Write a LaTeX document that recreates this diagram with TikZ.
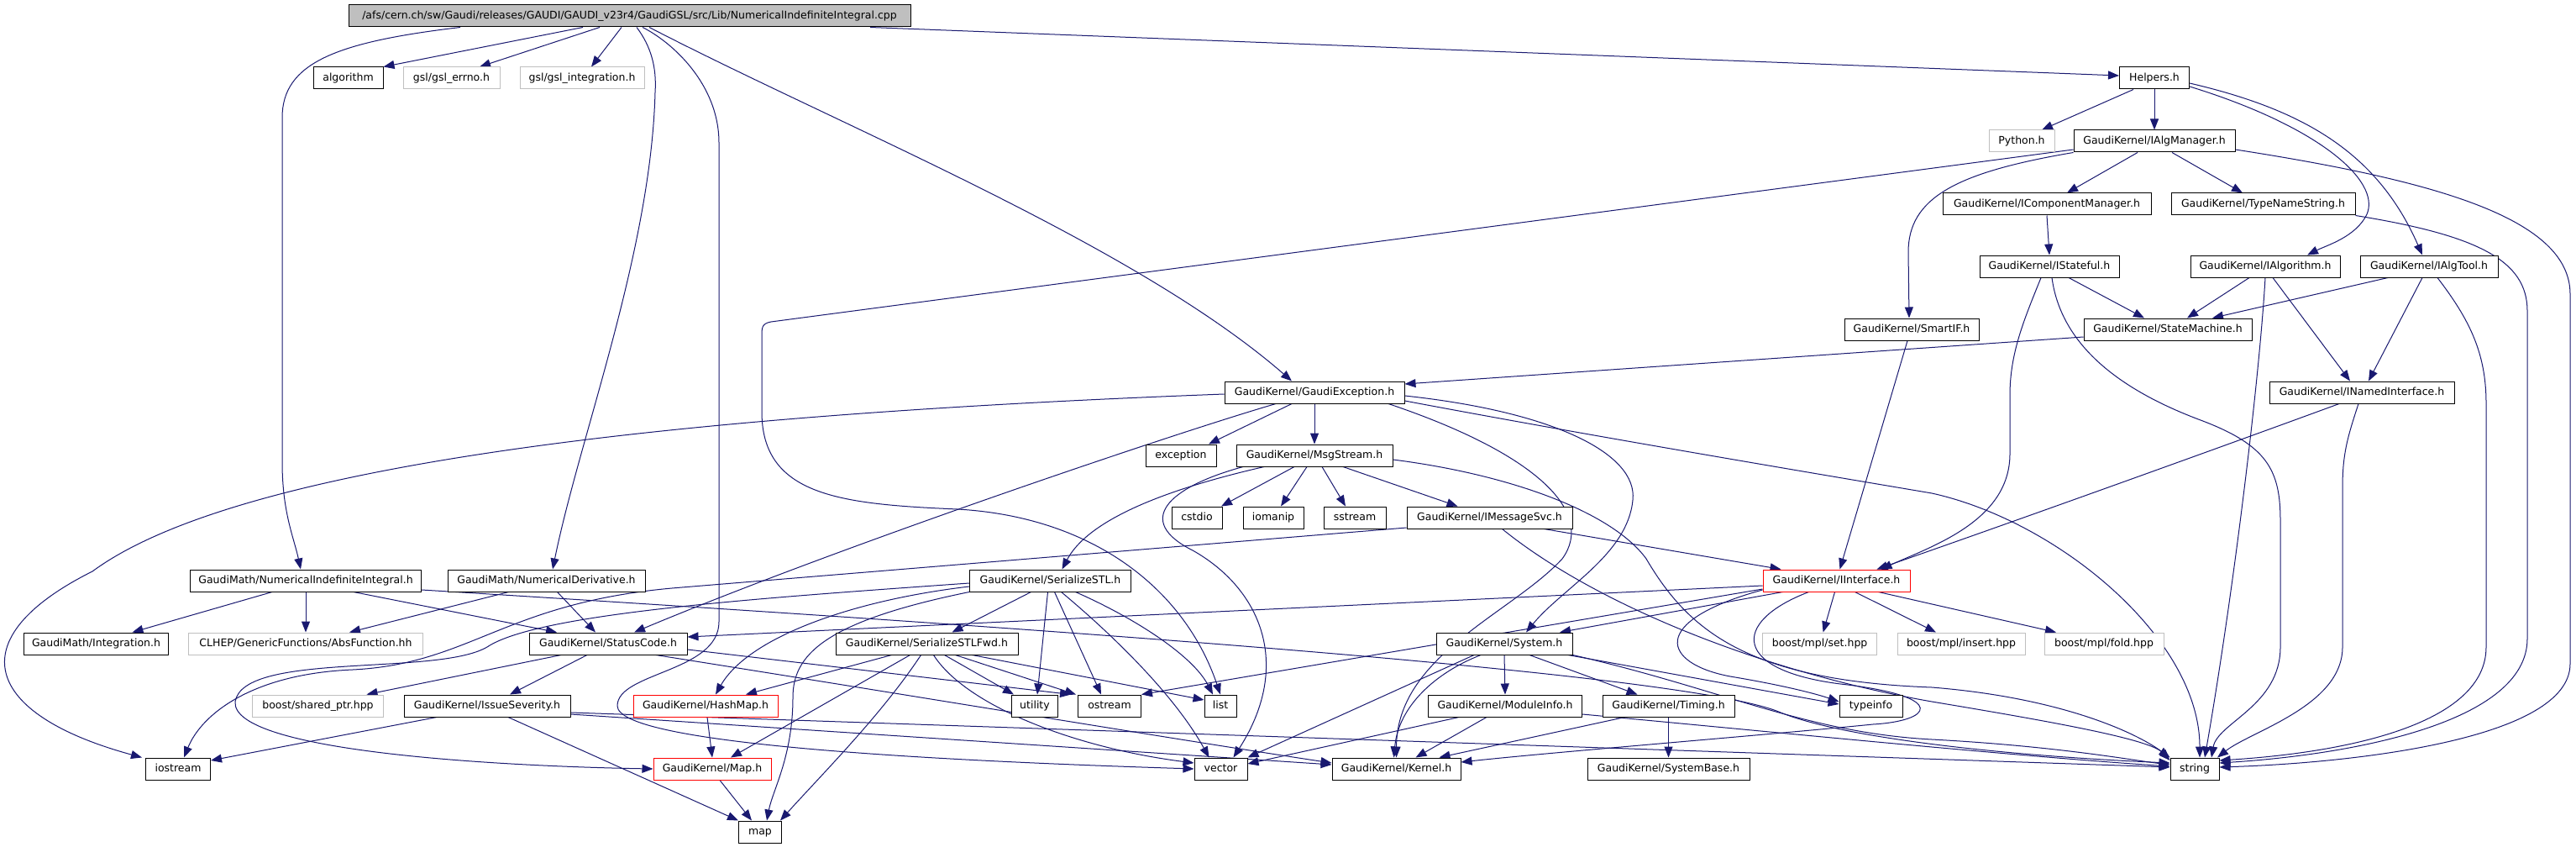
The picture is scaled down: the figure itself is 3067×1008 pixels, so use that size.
\documentclass[tikz,border=0pt]{standalone}
\usepackage{fontspec}
\setmainfont{DejaVu Sans}
\usetikzlibrary{arrows.meta}
\definecolor{edgec}{HTML}{191970}
\definecolor{grayb}{HTML}{BFBFBF}
\definecolor{redb}{HTML}{FF0000}
\newcommand{\dfont}{\fontsize{12.5}{15}\selectfont}
\pgfdeclarelayer{back}
\pgfdeclarelayer{edges}
\pgfsetlayers{back,edges,main}
\begin{document}
\begin{tikzpicture}[x=1pt,y=-1pt,
 box/.style={draw=black, line width=1pt, minimum height=26pt, inner xsep=2pt, inner ysep=0pt, text height=9.3pt, text depth=2.7pt, font=\dfont, fill=white},
 gbox/.style={box, draw=grayb},
 rbox/.style={box, draw=redb},
 rootbox/.style={box, fill=grayb},
 edge/.style={draw=edgec, line width=1pt, -{Triangle[length=13pt,width=10pt]}},
]
\useasboundingbox (0,0) rectangle (3067,1008);
\begin{pgfonlayer}{back}
\fill[white] (0,0) rectangle (3067,1008);
\end{pgfonlayer}

% nodes
\node[rootbox, minimum width=669pt] (root) at (749.5,19) {/afs/cern.ch/sw/Gaudi/releases/GAUDI/GAUDI\_v23r4/GaudiGSL/src/Lib/NumericalIndefiniteIntegral.cpp};
\node[box, minimum width=83pt] (algorithm) at (414.5,93) {algorithm};
\node[gbox, minimum width=115pt] (gslerrno) at (537.5,93) {gsl/gsl\_errno.h};
\node[gbox, minimum width=148pt] (gslint) at (693,93) {gsl/gsl\_integration.h};
\node[box, minimum width=83pt] (helpers) at (2565,93) {Helpers.h};
\node[gbox, minimum width=78pt] (python) at (2407,168) {Python.h};
\node[box, minimum width=192pt] (ialgmgr) at (2565,168) {GaudiKernel/IAlgManager.h};
\node[box, minimum width=248pt] (icompmgr) at (2437,243) {GaudiKernel/IComponentManager.h};
\node[box, minimum width=219pt] (typename) at (2694.5,243) {GaudiKernel/TypeNameString.h};
\node[box, minimum width=166pt] (istateful) at (2440,317) {GaudiKernel/IStateful.h};
\node[box, minimum width=178pt] (ialgo) at (2697,317) {GaudiKernel/IAlgorithm.h};
\node[box, minimum width=164pt] (ialgtool) at (2892,317) {GaudiKernel/IAlgTool.h};
\node[box, minimum width=160pt] (smartif) at (2276,392) {GaudiKernel/SmartIF.h};
\node[box, minimum width=200pt] (statemach) at (2581,392) {GaudiKernel/StateMachine.h};
\node[box, minimum width=220pt] (inamed) at (2812,467) {GaudiKernel/INamedInterface.h};
\node[box, minimum width=214pt] (gexc) at (1565,467) {GaudiKernel/GaudiException.h};
\node[box, minimum width=84pt] (exception) at (1406,542) {exception};
\node[box, minimum width=186pt] (msgstream) at (1565,542) {GaudiKernel/MsgStream.h};
\node[box, minimum width=60pt] (cstdio) at (1425,616) {cstdio};
\node[box, minimum width=72pt] (iomanip) at (1516,616) {iomanip};
\node[box, minimum width=74pt] (sstream) at (1613,616) {sstream};
\node[box, minimum width=197pt] (imsgsvc) at (1773.5,616) {GaudiKernel/IMessageSvc.h};
\node[box, minimum width=275pt] (numint) at (364,691) {GaudiMath/NumericalIndefiniteIntegral.h};
\node[box, minimum width=235pt] (numder) at (650.5,691) {GaudiMath/NumericalDerivative.h};
\node[box, minimum width=172pt] (integration) at (114.5,766) {GaudiMath/Integration.h};
\node[gbox, minimum width=279pt] (absfunc) at (364,766) {CLHEP/GenericFunctions/AbsFunction.hh};
\node[box, minimum width=188pt] (statuscode) at (724,766) {GaudiKernel/StatusCode.h};
\node[gbox, minimum width=156pt] (sharedptr) at (378.5,840) {boost/shared\_ptr.hpp};
\node[box, minimum width=198pt] (issuesev) at (580,840) {GaudiKernel/IssueSeverity.h};
\node[box, minimum width=77pt] (iostream) at (212,915) {iostream};
\node[box, minimum width=192pt] (serstl) at (1250.5,691) {GaudiKernel/SerializeSTL.h};
\node[box, minimum width=217pt] (serstlfwd) at (1103.5,766) {GaudiKernel/SerializeSTLFwd.h};
\node[rbox, minimum width=172pt] (hashmap) at (840,840) {GaudiKernel/HashMap.h};
\node[box, minimum width=55pt] (utility) at (1232,840) {utility};
\node[box, minimum width=75pt] (ostream) at (1321,840) {ostream};
\node[box, minimum width=38pt] (list) at (1453,840) {list};
\node[rbox, minimum width=140pt] (mapH) at (848,915) {GaudiKernel/Map.h};
\node[box, minimum width=63pt] (vector) at (1453.5,915) {vector};
\node[box, minimum width=51pt] (map) at (905,990) {map};
\node[rbox, minimum width=175pt] (iinterface) at (2186.5,691) {GaudiKernel/IInterface.h};
\node[box, minimum width=162pt] (system) at (1791,766) {GaudiKernel/System.h};
\node[gbox, minimum width=136pt] (mplset) at (2166.6,766) {boost/mpl/set.hpp};
\node[gbox, minimum width=152pt] (mplinsert) at (2335,766) {boost/mpl/insert.hpp};
\node[gbox, minimum width=142pt] (mplfold) at (2505,766) {boost/mpl/fold.hpp};
\node[box, minimum width=183pt] (moduleinfo) at (1792,840) {GaudiKernel/ModuleInfo.h};
\node[box, minimum width=157pt] (timing) at (1986.5,840) {GaudiKernel/Timing.h};
\node[box, minimum width=75pt] (typeinfo) at (2227.5,840) {typeinfo};
\node[box, minimum width=153pt] (kernel) at (1662.5,915) {GaudiKernel/Kernel.h};
\node[box, minimum width=193pt] (sysbase) at (1986.5,915) {GaudiKernel/SystemBase.h};
\node[box, minimum width=58pt] (string) at (2613,915) {string};

\begin{pgfonlayer}{edges}
% root
\draw[edge] ([xshift=-55.5]root.south) -- (algorithm.north east);
\draw[edge] ([xshift=-35.5]root.south) -- ([xshift=33.5]gslerrno.north);
\draw[edge] ([xshift=-9.5]root.south) -- ([xshift=11]gslint.north);
\draw[edge] ([xshift=-201.5]root.south) .. controls (400,50) and (336,75) .. (336,140) -- (336,550) .. controls (336,610) and (350,640) .. ([xshift=-6]numint.north);
\draw[edge] ([xshift=8.5]root.south) .. controls (775,55) and (782,80) .. (780,110) .. controls (775,300) and (690,520) .. ([xshift=7.5]numder.north);
\draw[edge] ([xshift=15.5]root.south) .. controls (800,50) and (856,100) .. (856,170) -- (856,740) .. controls (856,800) and (735,800) .. (735,840) .. controls (735,885) and (1100,905) .. (vector.west);
\draw[edge] ([xshift=23.5]root.south) .. controls (1000,150) and (1350,290) .. ([xshift=-27]gexc.north);
\draw[edge] ([xshift=286.5]root.south) -- ([yshift=3]helpers.west);
% Helpers
\draw[edge] ([xshift=-25]helpers.south) -- ([xshift=24]python.north);
\draw[edge] (helpers.south) -- (ialgmgr.north);
\draw[edge] ([yshift=-10]helpers.east) .. controls (2760,150) and (2835,215) .. (2818,255) .. controls (2805,282) and (2770,292) .. ([xshift=50]ialgo.north);
\draw[edge] ([yshift=-6]helpers.east) .. controls (2740,130) and (2830,180) .. ([xshift=-8]ialgtool.north);
% IAlgManager
\draw[edge] ([xshift=-20]ialgmgr.south) -- ([xshift=24]icompmgr.north);
\draw[edge] ([xshift=21]ialgmgr.south) -- ([xshift=-24.5]typename.north);
\draw[edge] (ialgmgr.south west) .. controls (2330,205) and (2272,235) .. (2272,300) -- ([xshift=-3]smartif.north);
\draw[edge] ([yshift=-10]ialgmgr.west) -- (918,383) .. controls (907,385) and (907,390) .. (907,400) -- (907,490) .. controls (907,590) and (1000,600) .. (1140,606) .. controls (1300,615) and (1410,700) .. (list.north);
\draw[edge] ([yshift=-10]ialgmgr.east) .. controls (2900,215) and (3060,260) .. (3060,350) -- (3060,790) .. controls (3060,880) and (2800,908) .. ([yshift=2]string.east);
\draw[edge] (icompmgr.south) -- (istateful.north);
\draw[edge] (typename.south east) .. controls (2950,280) and (3009,310) .. (3009,370) -- (3009,760) .. controls (3009,860) and (2800,898) .. ([yshift=7]string.east);
% IStateful
\draw[edge] ([xshift=23]istateful.south) -- ([xshift=-28]statemach.north);
\draw[edge] ([xshift=-10]istateful.south) .. controls (2410,380) and (2393,420) .. (2393,470) -- (2393,540) .. controls (2393,620) and (2300,650) .. ([xshift=53]iinterface.north);
\draw[edge] ([xshift=3]istateful.south) .. controls (2455,420) and (2540,470) .. (2620,500) .. controls (2700,530) and (2715,560) .. (2715,620) -- (2715,770) .. controls (2715,840) and (2640,860) .. ([xshift=20]string.north);
% IAlgorithm
\draw[edge] ([xshift=-19]ialgo.south) -- ([xshift=23]statemach.north);
\draw[edge] ([xshift=9]ialgo.south) -- ([xshift=-14]inamed.north);
\draw[edge] (ialgo.south) .. controls (2690,450) and (2660,700) .. ([xshift=12]string.north);
% IAlgTool
\draw[edge] ([xshift=-49]ialgtool.south) -- ([xshift=53]statemach.north);
\draw[edge] ([xshift=-8]ialgtool.south) -- ([xshift=8]inamed.north);
\draw[edge] ([xshift=10]ialgtool.south) .. controls (2940,380) and (2960,420) .. (2960,480) -- (2960,770) .. controls (2960,860) and (2800,895) .. ([yshift=10]string.east);
% SmartIF, StateMachine, INamedInterface
\draw[edge] ([xshift=-5]smartif.south) -- ([xshift=4]iinterface.north);
\draw[edge] ([yshift=-9]statemach.west) -- ([yshift=10]gexc.east);
\draw[edge] ([xshift=-27]inamed.south) .. controls (2650,530) and (2400,620) .. ([xshift=48]iinterface.north);
\draw[edge] ([xshift=-4]inamed.south) .. controls (2795,520) and (2789,540) .. (2789,580) -- (2789,770) .. controls (2789,840) and (2680,870) .. ([xshift=27]string.north);
% GaudiException
\draw[edge] ([xshift=-27]gexc.south) -- ([xshift=33]exception.north);
\draw[edge] (gexc.south) -- (msgstream.north);
\draw[edge] ([xshift=-46]gexc.south) .. controls (1400,515) and (1000,650) .. ([xshift=31]statuscode.north);
\draw[edge] ([yshift=-2]gexc.west) .. controls (900,490) and (300,540) .. (110,680) .. controls (-50,760) and (-20,850) .. ([xshift=-43]iostream.north);
\draw[edge] ([xshift=88]gexc.south) .. controls (1830,540) and (1900,610) .. (1860,665) .. controls (1800,730) and (1663,780) .. (kernel.north);
\draw[edge] ([yshift=-4]gexc.east) .. controls (1850,490) and (1950,540) .. (1944,595) .. controls (1938,660) and (1860,700) .. ([xshift=26]system.north);
\draw[edge] ([yshift=-10]gexc.east) .. controls (1900,520) and (2200,570) .. (2300,587) .. controls (2450,620) and (2619,760) .. ([xshift=6]string.north);
% MsgStream
\draw[edge] ([xshift=-24]msgstream.south) -- ([xshift=29]cstdio.north);
\draw[edge] ([xshift=-9]msgstream.south) -- ([xshift=9]iomanip.north);
\draw[edge] ([xshift=9]msgstream.south) -- ([xshift=-11]sstream.north);
\draw[edge] ([xshift=34]msgstream.south) -- ([xshift=-38]imsgsvc.north);
\draw[edge] ([xshift=-60]msgstream.south) .. controls (1420,575) and (1300,610) .. ([xshift=14]serstl.north);
\draw[edge] ([xshift=-85]msgstream.south) .. controls (1390,580) and (1350,620) .. (1420,655) .. controls (1500,700) and (1540,790) .. ([xshift=15]vector.north);
\draw[edge] ([yshift=-5]msgstream.east) .. controls (1800,565) and (1920,610) .. (1960,665) .. controls (2010,750) and (2080,810) .. (2300,818) .. controls (2450,830) and (2540,870) .. (string.north west);
% IMessageSvc
\draw[edge] ([xshift=65]imsgsvc.south) -- ([xshift=-66]iinterface.north);
\draw[edge] ([yshift=-12]imsgsvc.west) -- (800,700) .. controls (600,718) and (560,790) .. (420,797) .. controls (300,802) and (240,850) .. ([xshift=7]iostream.north);
\draw[edge] ([xshift=15]imsgsvc.south) .. controls (1900,720) and (2100,800) .. (2300,835) .. controls (2450,860) and (2560,880) .. ([yshift=10]string.west);
% NumericalIndefiniteIntegral.h
\draw[edge] ([xshift=-40]numint.south) -- ([xshift=43]integration.north);
\draw[edge] (numint.south) -- (absfunc.north);
\draw[edge] ([xshift=57]numint.south) -- ([xshift=-61]statuscode.north);
\draw[edge] ([yshift=-11]numint.east) .. controls (1200,745) and (2010,800) .. (2120,848) .. controls (2200,880) and (2400,900) .. ([yshift=7]string.west);
% NumericalDerivative.h
\draw[edge] ([xshift=-45]numder.south) -- ([xshift=52]absfunc.north);
\draw[edge] ([xshift=13]numder.south) -- ([xshift=-15]statuscode.north);
% StatusCode
\draw[edge] ([xshift=-56]statuscode.south) -- ([xshift=58]sharedptr.north);
\draw[edge] ([xshift=-25]statuscode.south) -- ([xshift=27]issuesev.north);
\draw[edge] ([yshift=-7]statuscode.east) -- ([xshift=-46]ostream.north);
\draw[edge] ([xshift=57]statuscode.south) .. controls (1100,830) and (1400,880) .. ([yshift=7]kernel.west);
% IssueSeverity
\draw[edge] ([xshift=-60]issuesev.south) -- ([yshift=10]iostream.east);
\draw[edge] ([xshift=25]issuesev.south) -- (map.north west);
\draw[edge] ([yshift=-10]issuesev.east) -- ([yshift=5]kernel.west);
\draw[edge] ([yshift=-8]issuesev.east) -- ([yshift=2]string.west);
% SerializeSTL
\draw[edge] ([xshift=-23]serstl.south) -- ([xshift=30]serstlfwd.north);
\draw[edge] ([yshift=-7]serstl.west) .. controls (1010,715) and (890,760) .. ([xshift=12]hashmap.north);
\draw[edge] (serstl.south west) .. controls (980,740) and (944,780) .. (944,830) .. controls (944,900) and (920,940) .. ([xshift=8]map.north);
\draw[edge] ([yshift=-3]serstl.west) .. controls (900,712) and (640,730) .. (580,770) .. controls (520,805) and (290,775) .. (280,835) .. controls (275,895) and (600,912) .. (mapH.west);
\draw[edge] ([xshift=-3]serstl.south) -- ([xshift=3]utility.north);
\draw[edge] ([xshift=5]serstl.south) -- ([xshift=-10]ostream.north);
\draw[edge] ([xshift=30]serstl.south) .. controls (1350,735) and (1420,780) .. ([xshift=-9]list.north);
\draw[edge] ([xshift=13]serstl.south) .. controls (1330,760) and (1400,830) .. ([xshift=-14]vector.north);
% SerializeSTLFwd
\draw[edge] ([xshift=-42]serstlfwd.south) -- ([xshift=48]hashmap.north);
\draw[edge] ([xshift=-20]serstlfwd.south) -- ([xshift=22]mapH.north);
\draw[edge] ([xshift=-7]serstlfwd.south) .. controls (1050,850) and (980,920) .. ([xshift=24]map.north);
\draw[edge] ([xshift=8]serstlfwd.south) .. controls (1150,840) and (1280,890) .. ([yshift=7]vector.west);
\draw[edge] ([xshift=21]serstlfwd.south) -- ([xshift=-25]utility.north);
\draw[edge] ([xshift=34]serstlfwd.south) -- ([xshift=-40]ostream.north);
\draw[edge] ([xshift=54]serstlfwd.south) -- ([yshift=7]list.west);
% HashMap, Map
\draw[edge] ([xshift=2]hashmap.south) -- (mapH.north);
\draw[edge] ([xshift=9]mapH.south) -- ([xshift=-10]map.north);
% IInterface
\draw[edge] ([yshift=-6]iinterface.west) -- ([yshift=8]statuscode.east);
\draw[edge] ([yshift=-10]iinterface.west) -- (ostream.north east);
\draw[edge] ([xshift=-64]iinterface.south) -- ([xshift=66]system.north);
\draw[edge] ([xshift=-33]iinterface.south) .. controls (2060,740) and (2060,800) .. (2200,815) .. controls (2320,830) and (2300,858) .. (2230,862) .. controls (2100,875) and (1850,895) .. ([yshift=8]kernel.east);
\draw[edge] ([xshift=-2]iinterface.south) -- ([xshift=4]mplset.north);
\draw[edge] ([xshift=22]iinterface.south) -- ([xshift=-30]mplinsert.north);
\draw[edge] ([xshift=50]iinterface.south) -- ([xshift=-57]mplfold.north);
\draw[edge] ([yshift=-11]iinterface.west) .. controls (1960,740) and (1980,790) .. (2060,805) .. controls (2120,815) and (2160,825) .. ([yshift=5]typeinfo.west);
% System
\draw[edge] (system.south) -- (moduleinfo.north);
\draw[edge] ([xshift=30]system.south) -- ([xshift=-37]timing.north);
\draw[edge] ([xshift=76]system.south) -- ([yshift=2]typeinfo.west);
\draw[edge] (system.south east) .. controls (2050,820) and (2150,872) .. (2300,880) .. controls (2450,888) and (2540,905) .. ([yshift=5]string.west);
\draw[edge] ([xshift=-28]system.south) .. controls (1710,800) and (1665,840) .. ([xshift=-3]kernel.north);
\draw[edge] ([xshift=-36]system.south) -- (vector.north east);
% ModuleInfo, Timing
\draw[edge] ([xshift=-22]moduleinfo.south) -- ([xshift=23]kernel.north);
\draw[edge] ([xshift=-55]moduleinfo.south) -- ([yshift=6]vector.east);
\draw[edge] ([yshift=-10]moduleinfo.east) .. controls (2100,870) and (2400,900) .. ([yshift=3]string.west);
\draw[edge] ([xshift=-52]timing.south) -- ([xshift=51]kernel.north);
\draw[edge] (timing.south) -- (sysbase.north);
\end{pgfonlayer}
\end{tikzpicture}
\end{document}
